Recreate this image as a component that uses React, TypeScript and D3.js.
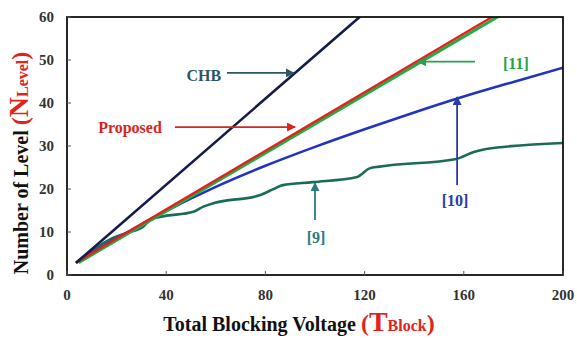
import React from 'react';
import * as d3 from 'd3';

// Series: [T_Block, N_Level]
const chb: [number, number][] = [[4, 3], [118, 60]];
const proposed: [number, number][] = [[4, 3], [171.4, 60]];
const ref11: [number, number][] = [[5, 3], [20, 8.1], [173.6, 60]];
const ref10: [number, number][] = [
  [4, 3], [20, 8.5], [40, 14.9], [60, 20.5], [80, 25.4], [100, 29.8],
  [120, 33.9], [140, 37.8], [160, 41.5], [180, 44.9], [200, 48.2],
];
const ref9: [number, number][] = [
  [4, 3], [12, 6.4], [18.5, 8.6], [24, 9.8], [30.6, 11.2], [33.5, 12.8], [37.5, 13.5],
  [51, 14.7], [55, 15.9], [59, 16.7], [78, 18.6], [83, 19.9], [87, 20.9], [99, 21.6],
  [117, 22.8], [122, 24.8], [126, 25.2], [157, 27], [164, 28.6], [169, 29.3], [200, 30.7],
];

const xTicks = [0, 40, 80, 120, 160, 200];
const yTicks = [0, 10, 20, 30, 40, 50, 60];

const series = [
  { name: '[9]', data: ref9, color: '#1c6a58', w: 2.6 },
  { name: '[10]', data: ref10, color: '#2233c0', w: 2.6 },
  { name: '[11]', data: ref11, color: '#1fae45', w: 3 },
  { name: 'Proposed', data: proposed, color: '#e3231b', w: 2.4 },
  { name: 'CHB', data: chb, color: '#151c48', w: 2.6 },
];

// annotations: label position and arrow (from -> to) in data units
const notes = [
  { text: 'CHB', color: '#2d5566', tx: 55.2, ty: 46.3, x1: 64.5, y1: 47, x2: 91.5, y2: 47 },
  { text: 'Proposed', color: '#d8261d', tx: 25.4, ty: 34.2, x1: 43.5, y1: 34.4, x2: 92, y2: 34.4 },
  { text: '[11]', color: '#24a24f', tx: 181, ty: 49.3, x1: 164.5, y1: 49.6, x2: 141.5, y2: 49.6 },
  { text: '[10]', color: '#2a3ba8', tx: 156.5, ty: 17.3, x1: 157.3, y1: 20.9, x2: 157.3, y2: 41.4 },
  { text: '[9]', color: '#2a7b80', tx: 100.4, ty: 8.7, x1: 100, y1: 12.8, x2: 100, y2: 21.4 },
];

const W = 577;
const H = 339;
const m = { left: 67, right: 563, top: 17, bottom: 275 };

export default function App() {
  const x = d3.scaleLinear().domain([0, 200]).range([m.left, m.right]);
  const y = d3.scaleLinear().domain([0, 60]).range([m.bottom, m.top]);
  const line = d3.line<[number, number]>().x(d => x(d[0])).y(d => y(d[1])).curve(d3.curveMonotoneX);
  const font = '"Liberation Serif", "Times New Roman", serif';

  return (
    <svg width={W} height={H} style={{ position: 'absolute', left: 0, top: 0, background: '#fff' }}>
      <defs>
        <clipPath id="plot">
          <rect x={m.left} y={m.top} width={m.right - m.left} height={m.bottom - m.top} />
        </clipPath>
        {notes.map((n, i) => (
          <marker key={i} id={'ah' + i} viewBox="0 0 10 10" refX="9" refY="5"
            markerWidth="5" markerHeight="5" orient="auto">
            <path d="M0,0 L10,5 L0,10 z" fill={n.color} />
          </marker>
        ))}
      </defs>

      <g clipPath="url(#plot)">
        {series.map(s => (
          <path key={s.name} d={line(s.data) || ''} fill="none" stroke={s.color}
            strokeWidth={s.w} strokeLinecap="round" />
        ))}
      </g>

      {/* frame */}
      <rect x={m.left} y={m.top} width={m.right - m.left} height={m.bottom - m.top}
        fill="none" stroke="#111" strokeWidth={1.8} />

      {xTicks.map(t => (
        <g key={'x' + t}>
          <line x1={x(t)} x2={x(t)} y1={m.bottom} y2={m.bottom - 4} stroke="#555" />
          <text x={x(t)} y={m.bottom + 25} textAnchor="middle" fontFamily={font}
            fontWeight="bold" fontSize={15} fill="#333">{t}</text>
        </g>
      ))}
      {yTicks.map(t => (
        <g key={'y' + t}>
          <line x1={m.left} x2={m.left + 4} y1={y(t)} y2={y(t)} stroke="#555" />
          <text x={m.left - 13} y={y(t) + 5} textAnchor="end" fontFamily={font}
            fontWeight="bold" fontSize={15} fill="#333">{t}</text>
        </g>
      ))}

      {notes.map((n, i) => (
        <g key={n.text}>
          <line x1={x(n.x1)} y1={y(n.y1)} x2={x(n.x2)} y2={y(n.y2)} stroke={n.color}
            strokeWidth={1.8} markerEnd={`url(#ah${i})`} />
          <text x={x(n.tx)} y={y(n.ty) + 5.5} textAnchor="middle" fontFamily={font}
            fontWeight="bold" fontSize={16} fill={n.color}>{n.text}</text>
        </g>
      ))}

      {/* axis titles */}
      <text x={299} y={331} textAnchor="middle" fontFamily={font} fontWeight="bold" fontSize={20} fill="#111">
        Total Blocking Voltage <tspan fill="#e3231b" fontSize={24}>(</tspan>
        <tspan fill="#e3231b" fontSize={28}>T</tspan>
        <tspan fill="#e3231b" fontSize={16}>Block</tspan>
        <tspan fill="#e3231b" fontSize={24}>)</tspan>
      </text>
      <text transform="translate(28,163) rotate(-90)" textAnchor="middle" fontFamily={font}
        fontWeight="bold" fontSize={20} fill="#111">
        Number of Level <tspan fill="#e3231b" fontSize={24}>(</tspan>
        <tspan fill="#e3231b" fontSize={28}>N</tspan>
        <tspan fill="#e3231b" fontSize={16}>Level</tspan>
        <tspan fill="#e3231b" fontSize={24}>)</tspan>
      </text>
    </svg>
  );
}
